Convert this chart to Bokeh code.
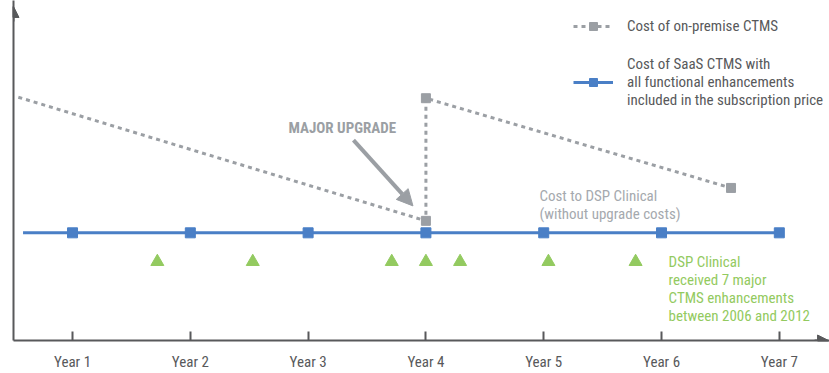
from bokeh.plotting import figure
from bokeh.models import (Range1d, LinearAxis, FixedTicker, Arrow, NormalHead,
                          Legend, LegendItem)
from bokeh.core.properties import value
from bokeh.embed import file_html
from bokeh.resources import INLINE

# ---- data ----
years = [1, 2, 3, 4, 5, 6, 7]
year_labels = ["Year 1", "Year 2", "Year 3", "Year 4", "Year 5", "Year 6", "Year 7"]
saas_line_x = [0.58, 1, 2, 3, 4, 5, 6, 7]
saas_line_y = [1.08, 1.08, 1.08, 1.08, 1.08, 1.08, 1.08, 1.08]
saas_cost = [1.08, 1.08, 1.08, 1.08, 1.08, 1.08, 1.08]
onprem_x = [0.54, 4.0, 4.0, 6.59]
onprem_y = [2.44, 1.20, 2.43, 1.53]
enh_x = [1.72, 2.53, 3.71, 4.0, 4.29, 5.04, 5.78]
enh_y = [0.79, 0.79, 0.79, 0.79, 0.79, 0.79, 0.79]

FONT = "Liberation Sans Narrow, Roboto Condensed, Roboto"
AXC = "#58595b"
GRAY = "#9b9fa4"
BLUE = "#4a7fc6"
GREEN = "#93ca60"

p = figure(width=829, height=373, output_backend="svg", toolbar_location=None,
           x_range=Range1d(0.499, 7.426), y_range=Range1d(0, 3.41),
           x_axis_type=None, y_axis_type=None,
           min_border_left=13, min_border_right=0, min_border_top=0, min_border_bottom=32)
p.outline_line_color = None
p.xgrid.grid_line_color = None
p.ygrid.grid_line_color = None
p.background_fill_color = "white"

xaxis = LinearAxis(ticker=FixedTicker(ticks=years),
                   major_label_overrides={y: l for y, l in zip(years, year_labels)})
xaxis.axis_line_color = AXC
xaxis.axis_line_width = 2
xaxis.major_tick_line_color = AXC
xaxis.major_tick_line_width = 2
xaxis.major_tick_in = 9
xaxis.major_tick_out = 0
xaxis.minor_tick_line_color = None
xaxis.major_label_standoff = 12
xaxis.major_label_text_font = FONT
xaxis.major_label_text_font_size = "15px"
xaxis.major_label_text_color = AXC
p.add_layout(xaxis, "below")

yaxis = LinearAxis(ticker=FixedTicker(ticks=[]))
yaxis.axis_line_color = AXC
yaxis.axis_line_width = 2
yaxis.major_tick_line_color = None
yaxis.minor_tick_line_color = None
yaxis.major_label_text_font_size = "0px"
p.add_layout(yaxis, "left")

# axis arrow heads
p.add_layout(Arrow(x_start=7.3, y_start=0, x_end=7.418, y_end=0, line_color=AXC, line_width=2,
                   end=NormalHead(size=11, fill_color=AXC, line_color=AXC)))
p.add_layout(Arrow(x_start=0.499, y_start=3.2, x_end=0.499, y_end=3.35, line_color=AXC, line_width=2,
                   end=NormalHead(size=11, fill_color=AXC, line_color=AXC)))

# series
r_on_line = p.line(onprem_x, onprem_y, line_color=GRAY, line_width=3, line_dash="4 4")
r_on_pts = p.scatter(onprem_x[1:], onprem_y[1:], marker="square", size=9, fill_color=GRAY, line_color=GRAY)
r_s_line = p.line(saas_line_x, saas_line_y, line_color=BLUE, line_width=3)
r_s_pts = p.scatter(years, saas_cost, marker="square", size=10, fill_color=BLUE, line_color=BLUE)
p.scatter(enh_x, enh_y, marker="triangle", size=13, fill_color=GREEN, line_color=GREEN)

# annotations
p.text(x=[3.29], y=[2.13], text=["MAJOR UPGRADE"], text_font=value(FONT), text_font_style="bold",
       text_font_size="15px", text_color=GRAY, text_align="center", text_baseline="middle")
p.add_layout(Arrow(x_start=3.385, y_start=2.01, x_end=3.89, y_end=1.35, line_color=GRAY, line_width=4,
                   end=NormalHead(size=16, fill_color=GRAY, line_color=GRAY)))
p.text(x=[4.964, 4.964], y=[1.45, 1.27], text=["Cost to DSP Clinical", "(without upgrade costs)"],
       text_font=value(FONT), text_font_size="15px", text_color="#a5a9ae",
       text_align="left", text_baseline="middle")
p.text(x=[6.06] * 4, y=[0.79, 0.61, 0.43, 0.25],
       text=["DSP Clinical", "received 7 major", "CTMS enhancements", "between 2006 and 2012"],
       text_font=value(FONT), text_font_size="15px", text_color=GREEN,
       text_align="left", text_baseline="middle")

legend = Legend(items=[
    LegendItem(label="Cost of on-premise CTMS", renderers=[r_on_line, r_on_pts]),
    LegendItem(label="Cost of SaaS CTMS with\nall functional enhancements\nincluded in the subscription price",
               renderers=[r_s_line, r_s_pts]),
], location=(560, 231))
legend.background_fill_alpha = 0
legend.border_line_color = None
legend.label_text_font = FONT
legend.label_text_font_size = "15px"
legend.label_text_color = AXC
legend.glyph_width = 40
legend.label_standoff = 14
legend.spacing = 19
legend.padding = 0
legend.margin = 0
p.add_layout(legend, "center")

open("out.html", "w").write(file_html(p, INLINE))
